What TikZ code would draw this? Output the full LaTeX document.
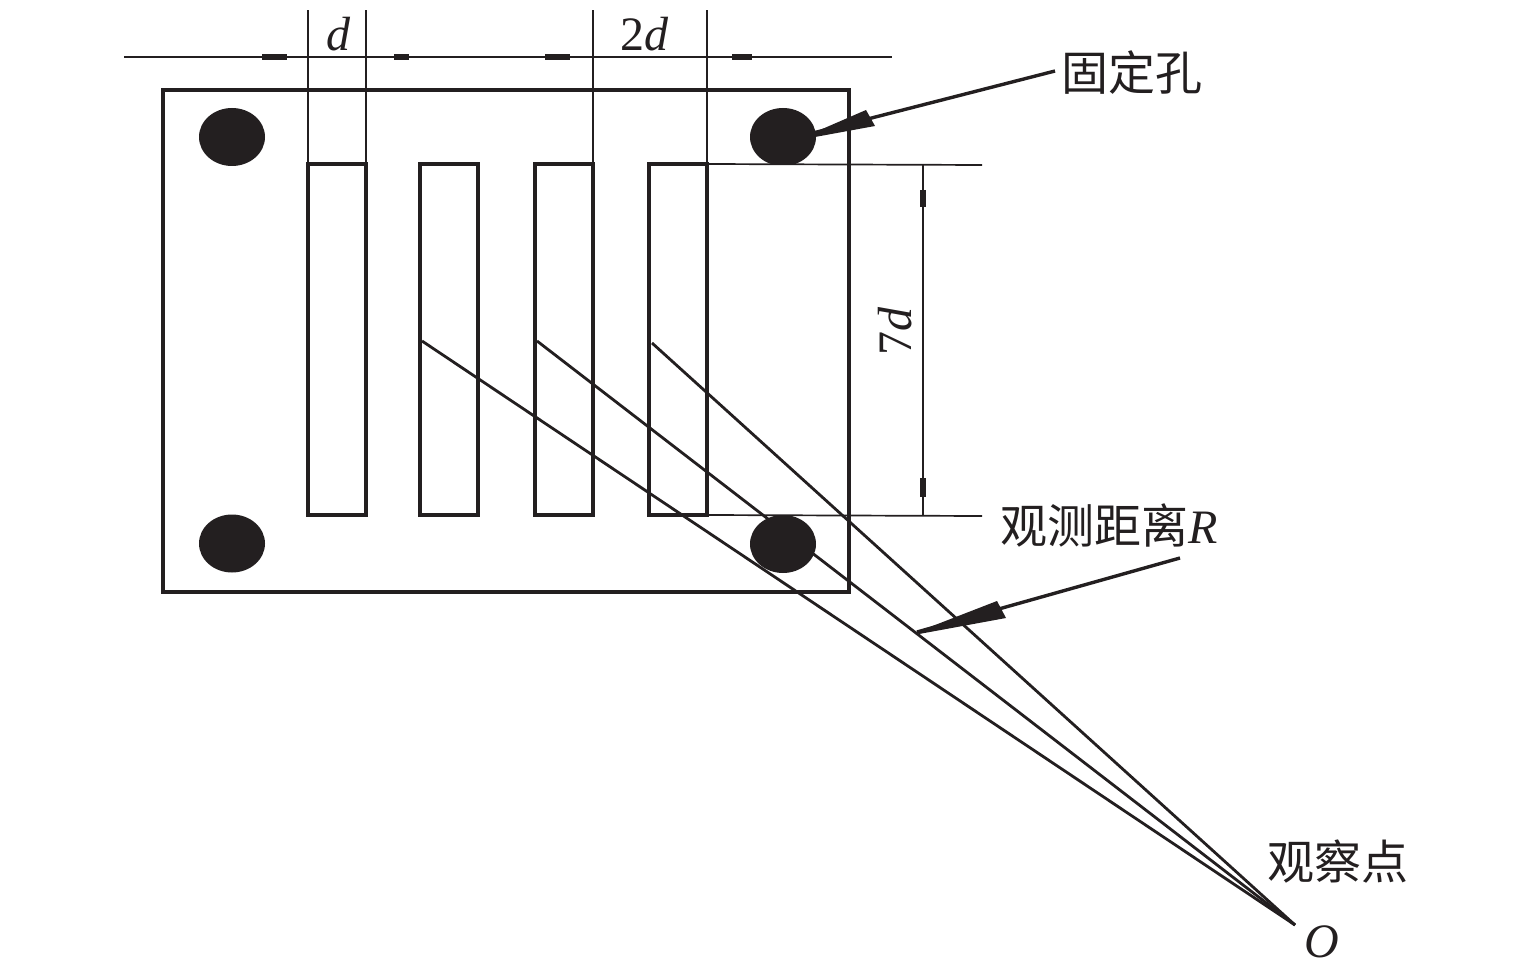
\documentclass[tikz,border=0pt]{standalone}
\usepackage{fontspec}
\setmainfont{Liberation Serif}
\newfontfamily\cjk{Noto Sans CJK SC}
\usetikzlibrary{shapes.geometric,calc}
\definecolor{ink}{HTML}{231F20}
\tikzset{
  x=0.5pt,y=-0.5pt,
  every node/.style={text=ink,inner sep=0pt,outer sep=0pt},
  frameline/.style={draw=ink,line width=2pt},
  slotbox/.style={draw=ink,line width=1.7pt,rectangle,minimum width=29pt,minimum height=175.5pt},
  dimline/.style={draw=ink,line width=0.85pt},
  rayline/.style={draw=ink,line width=1.4pt},
  leader/.style={draw=ink,line width=1.7pt},
  tick/.style={draw=ink,line width=3.2pt},
  hole/.style={ellipse,fill=ink,minimum width=33pt,minimum height=29pt},
  cjklabel/.style={font=\cjk\fontsize{23.5}{24}\selectfont},
  mathlabel/.style={font=\fontsize{24}{24}\selectfont\itshape},
}
\begin{document}
\begin{tikzpicture}
\useasboundingbox (0,0) rectangle (1535,978);
% holes
\node[hole] (h1) at (232,137) {};
\node[hole] (h3) at (232,543.5) {};
\begin{scope}
  \clip (740,100) rectangle (830,165);
  \node[hole] (h2) at (783,137) {};
\end{scope}
\begin{scope}
  \clip (740,516) rectangle (830,580);
  \node[hole] (h4) at (783,544) {};
\end{scope}
% frame
\node[frameline,rectangle,minimum width=343pt,minimum height=251pt] (frame) at (506,341) {};
% slots
\node[slotbox] (s1) at (337,339.5) {};
\node[slotbox] (s2) at (449,339.5) {};
\node[slotbox] (s3) at (564,339.5) {};
\node[slotbox] (s4) at (678,339.5) {};
% top dimension
\coordinate (dl) at (124,57);
\coordinate (dr) at (892,57);
\draw[dimline] (dl) -- (dr);
\draw[dimline] (s1.north west) -- (s1.north west |- 0,10);
\draw[dimline] (s1.north east) -- (s1.north east |- 0,10);
\draw[dimline] (s3.north east) -- (s3.north east |- 0,10);
\draw[dimline] (s4.north east) -- (s4.north east |- 0,10);
\foreach \a/\b in {262/287,394/409,545/570,732/752}
  \draw[tick] (\a,57) -- (\b,57);
\node[mathlabel] (ld) at (338,34) {d};
\node[mathlabel] (l2d) at (644,34) {\upshape 2\itshape d};
% right dimension
\coordinate (et) at (982,165);
\coordinate (eb) at (982,516);
\draw[dimline] (s4.north east) -- (et);
\draw[dimline] (s4.south east) -- (eb);
\draw[dimline] (923,165) -- (923,516);
\draw[tick] (923,190) -- (923,207);
\draw[tick] (923,478) -- (923,497);
\node[mathlabel,rotate=90] (l7d) at (895,332) {\upshape 7\itshape d};
% rays
\coordinate (O) at (1295,925);
\coordinate (r1) at (422,341);
\coordinate (r2) at (537,341);
\coordinate (r3) at (652,343);
\draw[rayline] (r1) -- (O);
\draw[rayline] (r2) -- (O);
\draw[rayline] (r3) -- (O);
% leaders
\coordinate (a1s) at (1055,71);
\coordinate (a1t) at (813,133);
\draw[leader] (a1s) -- (a1t);
\fill[ink] (a1t) -- (866,110) -- (875,126) -- (815,137) -- cycle;
\coordinate (a2s) at (1180,558);
\coordinate (a2t) at (917,632);
\draw[leader] (a2s) -- (a2t);
\fill[ink] (a2t) -- (997,601) -- (1006,618) -- (919,634) -- cycle;
% labels
\node[cjklabel] (t1) at (1132,73) {固定孔};
\node[cjklabel,anchor=west] (t2) at (1000,525) {观测距离{\rmfamily\fontsize{24}{24}\selectfont\itshape R}};
\node[cjklabel] (t3) at (1338,862) {观察点};
\node[mathlabel] (tO) at (1322,942) {O};
\end{tikzpicture}
\end{document}
